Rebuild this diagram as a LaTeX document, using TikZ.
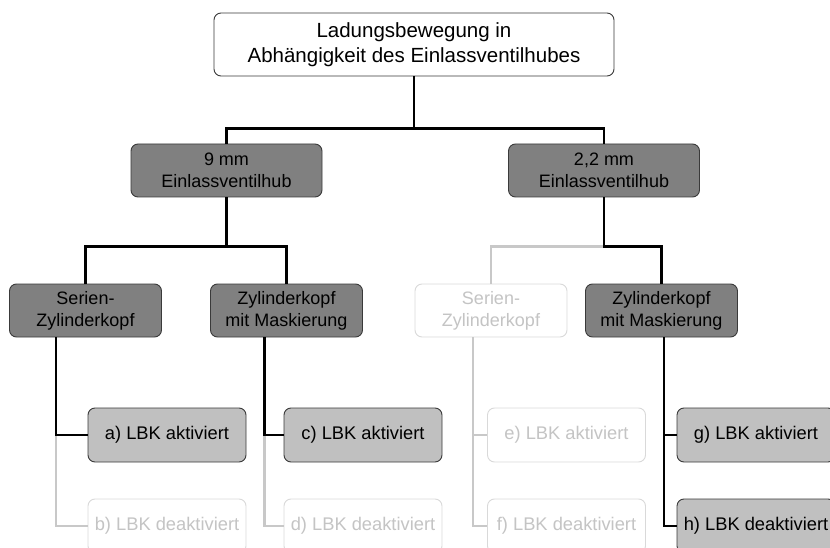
\documentclass[tikz,border=0pt]{standalone}
\usepackage{fontspec}
\setmainfont{Liberation Sans}
\usetikzlibrary{positioning,calc}
\definecolor{darkbox}{HTML}{808080}
\definecolor{lightbox}{HTML}{C0C0C0}
\definecolor{boxline}{HTML}{3A3A3A}
\definecolor{fadeline}{HTML}{C8C8C8}
\definecolor{fadeborder}{HTML}{D9D9D9}
\definecolor{fadetext}{HTML}{C4C4C4}
\tikzset{
      base/.style = {draw=boxline, line width=0.9pt, rounded corners=7pt,
                     align=center, inner sep=0pt},
      root/.style = {base, fill=white, minimum width=400pt, minimum height=63pt,
                     font=\fontsize{20.5}{25}\selectfont},
     level/.style = {base, fill=darkbox, minimum width=191pt, minimum height=53pt,
                     font=\fontsize{18}{22}\selectfont},
    branch/.style = {base, fill=darkbox, minimum width=152pt, minimum height=53pt,
                     font=\fontsize{18}{22}\selectfont},
      leaf/.style = {base, fill=lightbox, minimum width=158pt, minimum height=54pt,
                     font=\fontsize{18.3}{22}\selectfont},
     faded/.style = {draw=fadeborder, fill=white, text=fadetext},
      conn/.style = {line width=2.2pt, black},
    fadeln/.style = {line width=2.2pt, fadeline},
}
\begin{document}
\begin{tikzpicture}[x=1pt, y=-1pt]
  \clip (0,0) rectangle (830,548);
  \useasboundingbox (0,0) rectangle (830,548);

  % root and valve lift
  \node[root] (top) at (414,44.5) {Ladungsbewegung in\\Abhängigkeit des Einlassventilhubes};
  \node[level] (lv9)  at (226.5,170.5) {9 mm\\Einlassventilhub};
  \node[level] (lv22) at (604,170.5) {2,2 mm\\Einlassventilhub};

  % cylinder heads
  \node[branch] (ser1) at (85.5,310.5) {Serien-\\Zylinderkopf};
  \node[branch] (zyl1) at (286.5,310.5) {Zylinderkopf\\mit Maskierung};
  \node[branch,faded] (ser2) at (491,310.5) {Serien-\\Zylinderkopf};
  \node[branch] (zyl2) at (661.5,310.5) {Zylinderkopf\\mit Maskierung};

  % LBK
  \node[leaf] (a) at (167,435) {a) LBK aktiviert};
  \node[leaf,faded] (b) at (167,526) {b) LBK deaktiviert};
  \node[leaf] (c) at (363,435) {c) LBK aktiviert};
  \node[leaf,faded] (d) at (363,526) {d) LBK deaktiviert};
  \node[leaf,faded] (e) at (566.5,435) {e) LBK aktiviert};
  \node[leaf,faded] (f) at (566.5,526) {f) LBK deaktiviert};
  \node[leaf] (g) at (756,435) {g) LBK aktiviert};
  \node[leaf] (h) at (756,526) {h) LBK deaktiviert};

  % grey connectors first
  \draw[fadeln] (lv22.south) -- ++(0,49) -| (ser2.north);
  \draw[fadeln] ([xshift=-29.5pt]ser1.south) |- (b.west);
  \draw[fadeln] ([xshift=-22pt]zyl1.south) |- (d.west);
  \draw[fadeln] ([xshift=-18pt]ser2.south) |- (e.west);
  \draw[fadeln] ([xshift=-18pt]ser2.south) |- (f.west);

  % black connectors
  \draw[conn] (top.south) -- ++(0,52) -| (lv9.north);
  \draw[conn] (top.south) -- ++(0,52) -| (lv22.north);
  \draw[conn] (lv9.south) -- ++(0,49) -| (ser1.north);
  \draw[conn] (lv9.south) -- ++(0,49) -| (zyl1.north);
  \draw[conn] (lv22.south) -- ++(0,49) -| (zyl2.north);
  \draw[conn] ([xshift=-29.5pt]ser1.south) |- (a.west);
  \draw[conn] ([xshift=-22pt]zyl1.south) |- (c.west);
  \draw[conn] ([xshift=2.5pt]zyl2.south) |- (g.west);
  \draw[conn] ([xshift=2.5pt]zyl2.south) |- (h.west);
\end{tikzpicture}
\end{document}
